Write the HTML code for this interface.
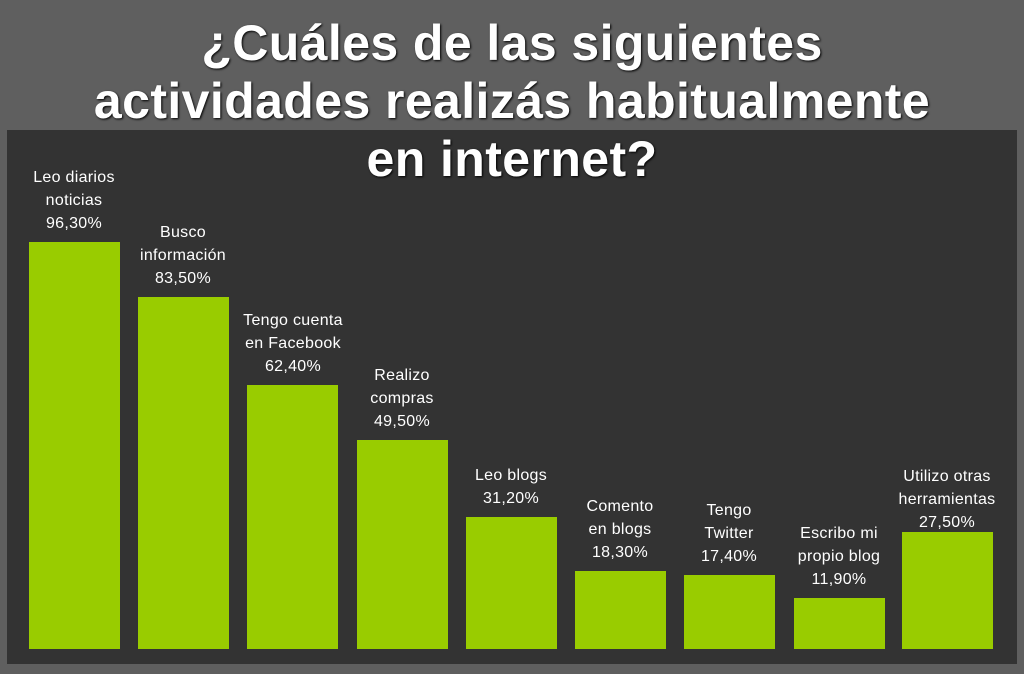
<!DOCTYPE html><html><head><style>
body{margin:0;width:1024px;height:674px;background:#5f5f5f;position:relative;overflow:hidden;font-family:"Liberation Sans",sans-serif}
#p{position:absolute;left:7px;top:130px;width:1010px;height:534px;background:#333}
.b{position:absolute;background:#99cc00;bottom:25px;width:91px}
.l{position:absolute;width:140px;text-align:center;color:#fff;font-size:16px;line-height:23px;letter-spacing:0.3px}
h1{position:absolute;left:0;top:14px;width:1024px;margin:0;text-align:center;color:#fff;font-size:50px;line-height:58px;font-weight:bold;letter-spacing:0.4px;text-shadow:1px 1px 2px #000}
</style></head><body>
<div id="p"></div>
<div class="b" style="left:29px;top:242px"></div>
<div class="b" style="left:138px;top:297px"></div>
<div class="b" style="left:247px;top:385px"></div>
<div class="b" style="left:357px;top:440px"></div>
<div class="b" style="left:466px;top:517px"></div>
<div class="b" style="left:575px;top:571px"></div>
<div class="b" style="left:684px;top:575px"></div>
<div class="b" style="left:794px;top:598px"></div>
<div class="b" style="left:902px;top:532px"></div>
<div class="l" style="left:4px;top:166px">Leo diarios<br>noticias<br>96,30%</div>
<div class="l" style="left:113px;top:221px">Busco<br>información<br>83,50%</div>
<div class="l" style="left:223px;top:309px">Tengo cuenta<br>en Facebook<br>62,40%</div>
<div class="l" style="left:332px;top:364px">Realizo<br>compras<br>49,50%</div>
<div class="l" style="left:441px;top:464px">Leo blogs<br>31,20%</div>
<div class="l" style="left:550px;top:495px">Comento<br>en blogs<br>18,30%</div>
<div class="l" style="left:659px;top:499px">Tengo<br>Twitter<br>17,40%</div>
<div class="l" style="left:769px;top:522px">Escribo mi<br>propio blog<br>11,90%</div>
<div class="l" style="left:877px;top:465px">Utilizo otras<br>herramientas<br>27,50%</div>
<h1>¿Cuáles de las siguientes<br>actividades realizás habitualmente<br>en internet?</h1>
</body></html>
